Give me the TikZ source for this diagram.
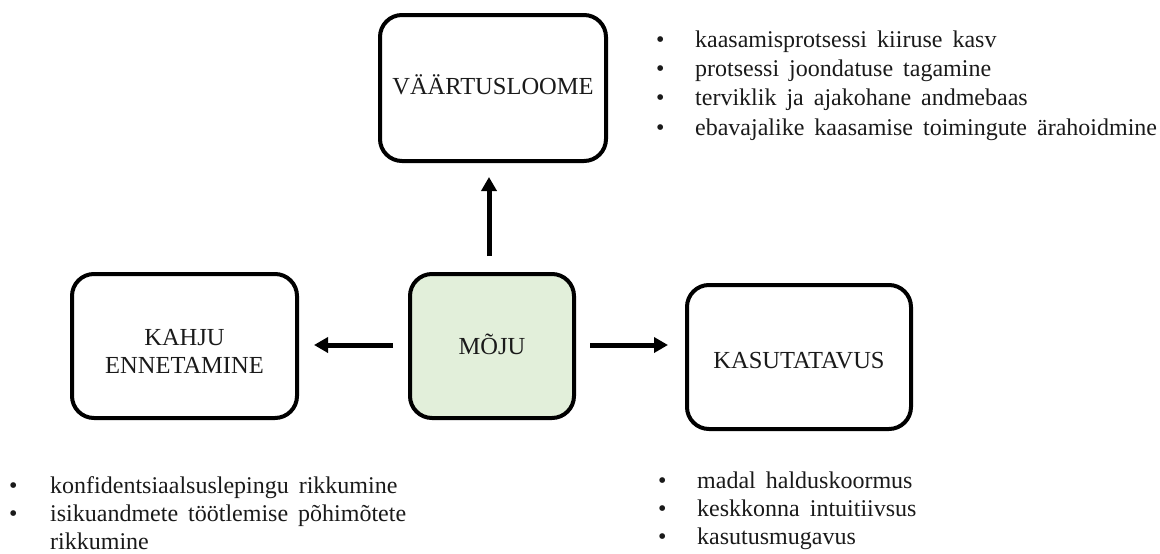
\documentclass[tikz,border=0pt]{standalone}
\usepackage{fontspec}
\setmainfont{Liberation Serif}
\usetikzlibrary{arrows.meta}
\definecolor{mojufill}{HTML}{E2EFDA}
\definecolor{ink}{HTML}{1A1A1A}
\newcommand\listfont{\fontsize{24}{28}\selectfont\spaceskip=10pt plus 1pt\relax}
% move a label up or down inside its box without changing the box
\newcommand\shiftlabel[2]{\raisebox{#1}[\height][\depth]{#2}}
\begin{document}
\begin{tikzpicture}[x=1pt, y=-1pt,
  box/.style={draw=black, line width=4pt, rounded corners=22pt, inner sep=0pt,
    align=center, text=ink, font=\fontsize{24.5}{28.5}\selectfont},
  arr/.style={line width=5pt, -{Triangle[width=15pt,length=14pt]}},
  bullet/.style={anchor=base west, inner sep=0pt, text=ink, font=\listfont},
]
\useasboundingbox (0,0) rectangle (1160,554);

% central box and the three outcome boxes
\node[box, fill=mojufill, minimum width=164pt, minimum height=144pt] (moju) at (492,346)
  {\shiftlabel{2pt}{MÕJU}};
\node[box, minimum width=226pt, minimum height=146pt] (vaart) at (493,88)
  {\shiftlabel{3pt}{VÄÄRTUSLOOME}};
\node[box, minimum width=225pt, minimum height=144pt] (kahju) at (184.5,346)
  {\shiftlabel{-8pt}{\begin{tabular}{@{}c@{}}KAHJU\\ENNETAMINE\end{tabular}}};
\node[box, minimum width=224pt, minimum height=144pt] (kasut) at (799,357)
  {\shiftlabel{-4pt}{KASUTATAVUS}};

% arrows from the centre outwards
\draw[arr, shorten <=16pt, shorten >=14pt] ([xshift=-3pt]moju.north) -- ([xshift=-4pt]vaart.south);
\draw[arr, shorten <=15pt, shorten >=15pt] ([yshift=1pt]moju.west) -- ([yshift=1pt]kahju.east);
\draw[arr, shorten <=14pt, shorten >=17pt] ([yshift=1pt]moju.east) -- ([yshift=12pt]kasut.west);

% value creation list
\node[bullet] (v1) at (656,47) {\makebox[39pt][l]{•}kaasamisprotsessi kiiruse kasv};
\node[bullet] (v2) at (656,76) {\makebox[39pt][l]{•}protsessi joondatuse tagamine};
\node[bullet] (v3) at (656,105) {\makebox[39pt][l]{•}terviklik ja ajakohane andmebaas};
\node[bullet] (v4) at (656,135) {\makebox[39pt][l]{•}ebavajalike kaasamise toimingute ärahoidmine};

% harm prevention list
\node[bullet] (k1) at (9,493) {\makebox[41pt][l]{•}konfidentsiaalsuslepingu rikkumine};
\node[bullet] (k2) at (9,521) {\makebox[41pt][l]{•}isikuandmete töötlemise põhimõtete};
\node[bullet] (k3) at (9,549) {\makebox[41pt][l]{}rikkumine};

% usability list
\node[bullet] (u1) at (658,488) {\makebox[39pt][l]{•}madal halduskoormus};
\node[bullet] (u2) at (658,516) {\makebox[39pt][l]{•}keskkonna intuitiivsus};
\node[bullet] (u3) at (658,544) {\makebox[39pt][l]{•}kasutusmugavus};
\end{tikzpicture}
\end{document}
